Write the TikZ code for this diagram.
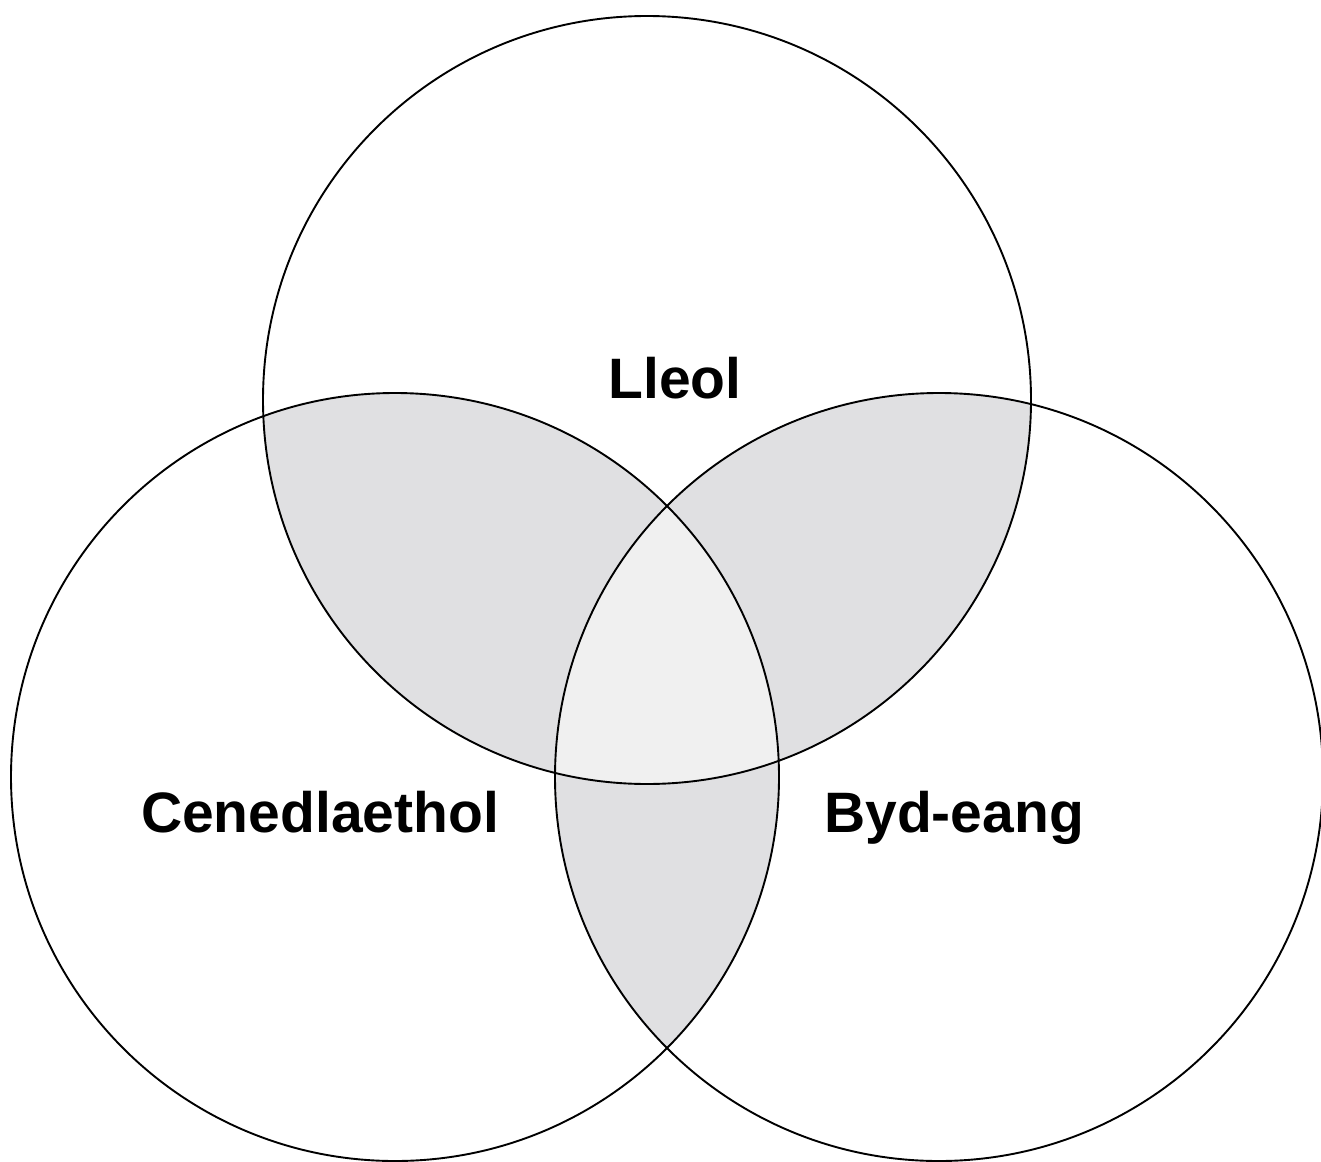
\documentclass[tikz,border=0pt]{standalone}
\usepackage{fontspec}
\setmainfont{Liberation Sans}
\definecolor{pairgray}{HTML}{E0E0E2}
\definecolor{triplegray}{HTML}{F0F0F0}
\tikzset{setlabel/.style={anchor=base,font=\bfseries\fontsize{57}{68}\selectfont}}
\begin{document}
\begin{tikzpicture}[x=1pt,y=-1pt]
      \useasboundingbox (0,0) rectangle (1321,1161);
      \coordinate (ctop) at (647,400);
      \coordinate (cleft) at (395,777);
      \coordinate (cright) at (939,777);
      % pairwise overlaps
      \begin{scope}
        \clip (ctop) circle[radius=384];
        \fill[pairgray] (cleft) circle[radius=384];
        \fill[pairgray] (cright) circle[radius=384];
      \end{scope}
      \begin{scope}
        \clip (cleft) circle[radius=384];
        \fill[pairgray] (cright) circle[radius=384];
      \end{scope}
      % centre
      \begin{scope}
        \clip (ctop) circle[radius=384];
        \clip (cleft) circle[radius=384];
        \fill[triplegray] (cright) circle[radius=384];
      \end{scope}
      \draw[line width=1.9pt] (ctop) circle[radius=384];
      \draw[line width=1.9pt] (cleft) circle[radius=384];
      \draw[line width=1.9pt] (cright) circle[radius=384];
      \node[setlabel] (lleol) at (675,398) {Lleol};
      \node[setlabel] (cenedlaethol) at (320,832) {Cenedlaethol};
      \node[setlabel] (bydeang) at (954,832) {Byd-eang};
     \end{tikzpicture}
\end{document}
